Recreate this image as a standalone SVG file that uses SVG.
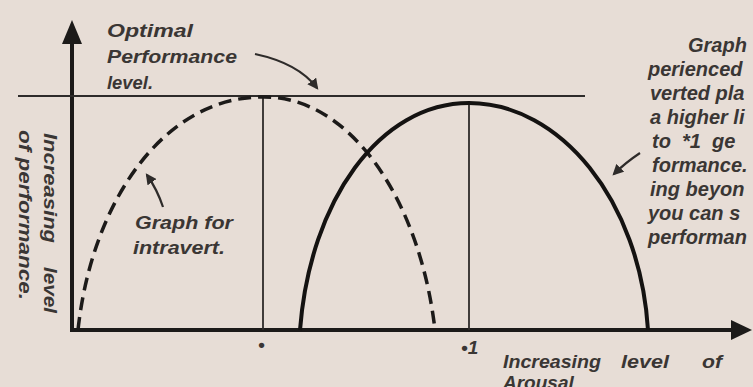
<svg xmlns="http://www.w3.org/2000/svg" width="753" height="387" viewBox="0 0 753 387">
<defs>
<style>
.t{font-family:"Liberation Sans",Arial,sans-serif;font-style:italic;font-weight:bold;font-size:19px;fill:#3a3634}
.r{font-size:20px}
.ax{stroke:#1c1a19;stroke-width:4;fill:none}
.thin{stroke:#2e2b2a;stroke-width:1.8;fill:none}
.ptr{stroke:#2e2b2a;stroke-width:2.2;fill:none}
</style>
<marker id="ah" viewBox="0 0 10 10" refX="8" refY="5" markerWidth="5" markerHeight="5" orient="auto"><path d="M0,0 L10,5 L0,10 z" fill="#2e2b2a"/></marker>
</defs>
<rect width="753" height="387" fill="#e7ddd6"/>
<g id="axes">
<line class="ax" x1="72" y1="332" x2="72" y2="40"/>
<path d="M72,20 L62,44 L82,44 z" fill="#1c1a19"/>
<line class="ax" x1="70" y1="330" x2="735" y2="330"/>
<path d="M752,330 L731,320 L731,340 z" fill="#1c1a19"/>
</g>
<g id="optimal-line"><line class="thin" x1="18" y1="96" x2="585" y2="96"/></g>
<g id="verticals">
<line class="thin" x1="263" y1="96" x2="263" y2="330"/>
<line class="thin" x1="469" y1="103" x2="469" y2="330"/>
</g>
<g id="connectors">
<path d="M78,330 C92,200 165,97 262,97 C350,95 420,200 435,330" stroke="#1c1a19" stroke-width="3.5" fill="none" stroke-dasharray="13,7"/>
<path d="M300,330 C310,200 380,103 469,103 C560,103 640,200 648,330" stroke="#141211" stroke-width="4" fill="none"/>
<path class="ptr" d="M255,54 C283,60 305,72 317,88" marker-end="url(#ah)"/>
<path class="ptr" d="M163,207 C159,195 154,185 147,175" marker-end="url(#ah)"/>
<path class="ptr" d="M640,153 C631,159 622,166 614,174" marker-end="url(#ah)"/>
</g>
<g id="label-optimal">
<text class="t" x="107" y="37" textLength="86" lengthAdjust="spacingAndGlyphs">Optimal</text>
<text class="t" x="107" y="63" textLength="130" lengthAdjust="spacingAndGlyphs">Performance</text>
<text class="t" x="107" y="89" textLength="46" lengthAdjust="spacingAndGlyphs">level.</text>
</g>
<g id="label-intravert">
<text class="t" x="135" y="229" textLength="98" lengthAdjust="spacingAndGlyphs">Graph for</text>
<text class="t" x="133" y="254" textLength="92" lengthAdjust="spacingAndGlyphs">intravert.</text>
</g>
<g id="label-extravert">
<text class="t r" x="688" y="52">Graph</text>
<text class="t r" x="648" y="76">perienced</text>
<text class="t r" x="650" y="100">verted pla</text>
<text class="t r" x="650" y="124">a higher li</text>
<text class="t r" x="652" y="148" xml:space="preserve">to  *1  ge</text>
<text class="t r" x="652" y="172">formance.</text>
<text class="t r" x="650" y="196">ing beyon</text>
<text class="t r" x="648" y="220">you can s</text>
<text class="t r" x="648" y="244">performan</text>
</g>
<g id="label-yaxis">
<text class="t" transform="translate(44,133) rotate(90)" textLength="110" lengthAdjust="spacingAndGlyphs">Increasing</text>
<text class="t" transform="translate(44,267) rotate(90)" textLength="46" lengthAdjust="spacingAndGlyphs">level</text>
<text class="t" transform="translate(19,130) rotate(90)" textLength="170" lengthAdjust="spacingAndGlyphs">of performance.</text>
</g>
<g id="label-xaxis">
<text class="t" x="258" y="351">•</text>
<text class="t" x="461" y="354">•1</text>
<text class="t" x="503" y="368" textLength="98" lengthAdjust="spacingAndGlyphs">Increasing</text>
<text class="t" x="621" y="368" textLength="48" lengthAdjust="spacingAndGlyphs">level</text>
<text class="t" x="702" y="368" textLength="20" lengthAdjust="spacingAndGlyphs">of</text>
<text class="t" x="503" y="389">Arousal</text>
</g>
</svg>
